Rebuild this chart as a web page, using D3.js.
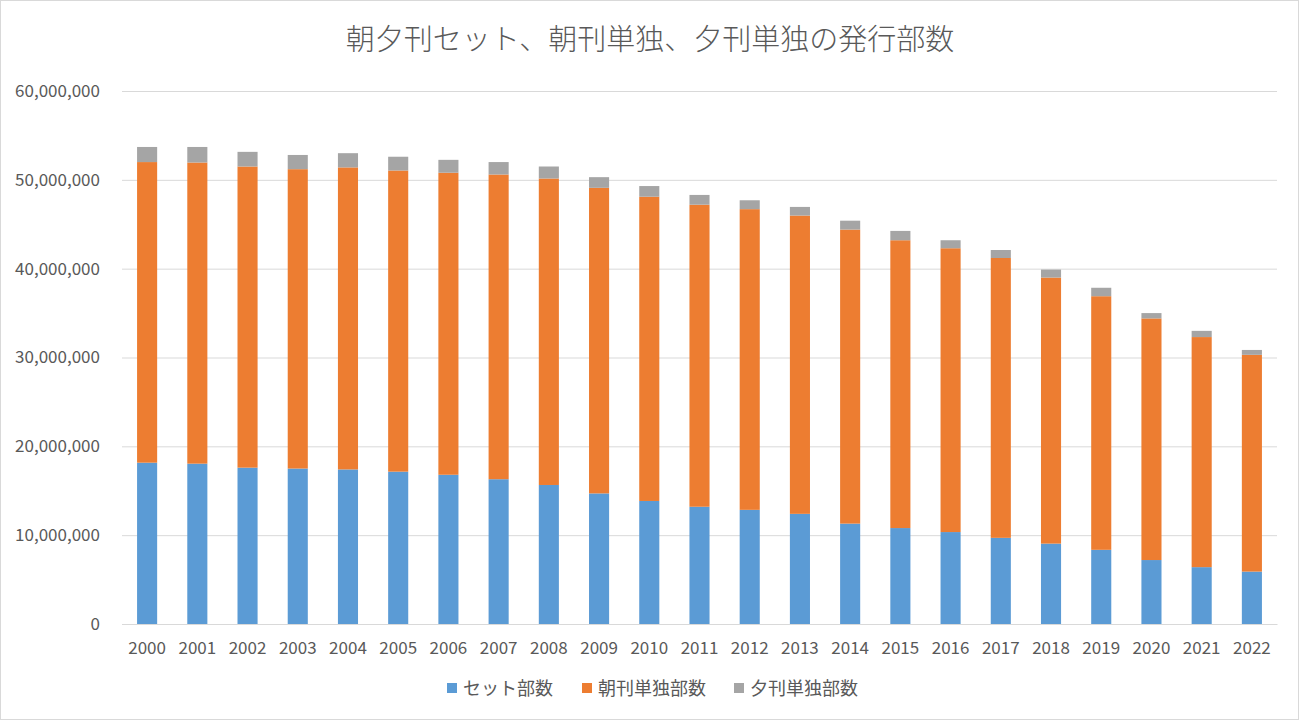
<!DOCTYPE html>
<html>
<head>
<meta charset="utf-8">
<script src="https://cdn.jsdelivr.net/npm/d3@7"></script>
<style>
	body { margin: 0; background: #fff; }
	svg text { font-family: "Noto Sans CJK JP", "Noto Sans", sans-serif; fill: #595959; }
</style>
</head>
<body>
<div id="chart"></div>
<script>
// Data (copies)
var years = ['2000', '2001', '2002', '2003', '2004', '2005', '2006', '2007', '2008', '2009', '2010', '2011',
	'2012', '2013', '2014', '2015', '2016', '2017', '2018', '2019', '2020', '2021', '2022'];
var setCopies = [18160000, 18050000, 17600000, 17500000, 17400000, 17150000, 16800000, 16300000, 15650000, 14700000, 13850000, 13200000,
	12850000, 12400000, 11300000, 10800000, 10350000, 9700000, 9050000, 8350000, 7200000, 6400000, 5900000];
var morningCopies = [33840000, 33900000, 33900000, 33700000, 34000000, 33900000, 34000000, 34300000, 34500000, 34400000, 34250000, 34000000,
	33850000, 33580000, 33100000, 32400000, 31950000, 31500000, 29950000, 28550000, 27200000, 25900000, 24400000];
var eveningCopies = [1700000, 1750000, 1650000, 1600000, 1600000, 1550000, 1450000, 1400000, 1350000, 1200000, 1200000, 1100000,
	1000000, 970000, 1000000, 1050000, 900000, 900000, 900000, 950000, 600000, 700000, 550000];
var seriesNames = ['セット部数', '朝刊単独部数', '夕刊単独部数'];
var seriesColors = ['#5b9bd5', '#ed7d31', '#a5a5a5'];
var yTicks = [0, 10000000, 20000000, 30000000, 40000000, 50000000, 60000000];

var attrs = {
	svgWidth: 1300,
	svgHeight: 721,
	marginTop: 91,
	marginLeft: 122,
	marginRight: 23,
	marginBottom: 97
};

var calc = {};
calc.chartWidth = attrs.svgWidth - attrs.marginLeft - attrs.marginRight;
calc.chartHeight = attrs.svgHeight - attrs.marginTop - attrs.marginBottom;

var rows = years.map(function (y, i) {
	return { year: y, s0: setCopies[i], s1: morningCopies[i], s2: eveningCopies[i] };
});
var stacked = d3.stack().keys(['s0', 's1', 's2'])(rows);

var svg = d3.select('#chart').append('svg')
	.attr('width', attrs.svgWidth)
	.attr('height', attrs.svgHeight);

// outer frame
svg.append('rect')
	.attr('x', 0.5).attr('y', 0.5)
	.attr('width', attrs.svgWidth - 2).attr('height', attrs.svgHeight - 2)
	.attr('fill', '#fff').attr('stroke', '#d9d9d9');

var x = d3.scaleBand().domain(years).range([0, calc.chartWidth]).paddingInner(0.6).paddingOuter(0.3);
var y = d3.scaleLinear().domain([0, 60000000]).range([calc.chartHeight, 0]);

var g = svg.append('g').attr('transform', 'translate(' + attrs.marginLeft + ',' + attrs.marginTop + ')');

// gridlines + y labels
var yAxis = d3.axisLeft(y).tickValues(yTicks).tickSize(-calc.chartWidth).tickPadding(22)
	.tickFormat(d3.format(','));
g.append('g').call(yAxis)
	.call(function (a) {
		a.select('.domain').remove();
		a.selectAll('line').attr('stroke', '#d9d9d9').attr('stroke-width', 1);
		a.selectAll('text').style('font-size', '17px').attr('fill', '#595959');
	});

// bars
g.selectAll('.series').data(stacked).enter().append('g')
	.attr('fill', function (d, i) { return seriesColors[i]; })
	.selectAll('rect').data(function (d) { return d; }).enter().append('rect')
	.attr('x', function (d) { return x(d.data.year); })
	.attr('width', x.bandwidth())
	.attr('y', function (d) { return y(d[1]); })
	.attr('height', function (d) { return y(d[0]) - y(d[1]); });

// x axis
var xAxis = d3.axisBottom(x).tickSize(0).tickPadding(18);
g.append('g').attr('transform', 'translate(0,' + calc.chartHeight + ')').call(xAxis)
	.call(function (a) {
		a.select('.domain').attr('stroke', '#d9d9d9');
		a.selectAll('text').style('font-size', '17px').attr('fill', '#595959');
	});

// title
svg.append('text')
	.attr('x', 650).attr('y', 50)
	.attr('text-anchor', 'middle')
	.style('font-size', '29px').style('font-weight', 300)
	.text('朝夕刊セット、朝刊単独、夕刊単独の発行部数');

// legend
var legendX = [447, 582, 734];
var legend = svg.append('g').selectAll('g').data(seriesNames).enter().append('g')
	.attr('transform', function (d, i) { return 'translate(' + legendX[i] + ',689)'; });
legend.append('rect').attr('x', 0).attr('y', -6).attr('width', 10).attr('height', 10)
	.attr('fill', function (d, i) { return seriesColors[i]; });
legend.append('text').attr('x', 16).attr('y', 0).attr('dy', '0.35em')
	.style('font-size', '18px')
	.text(function (d) { return d; });
</script>
</body>
</html>
